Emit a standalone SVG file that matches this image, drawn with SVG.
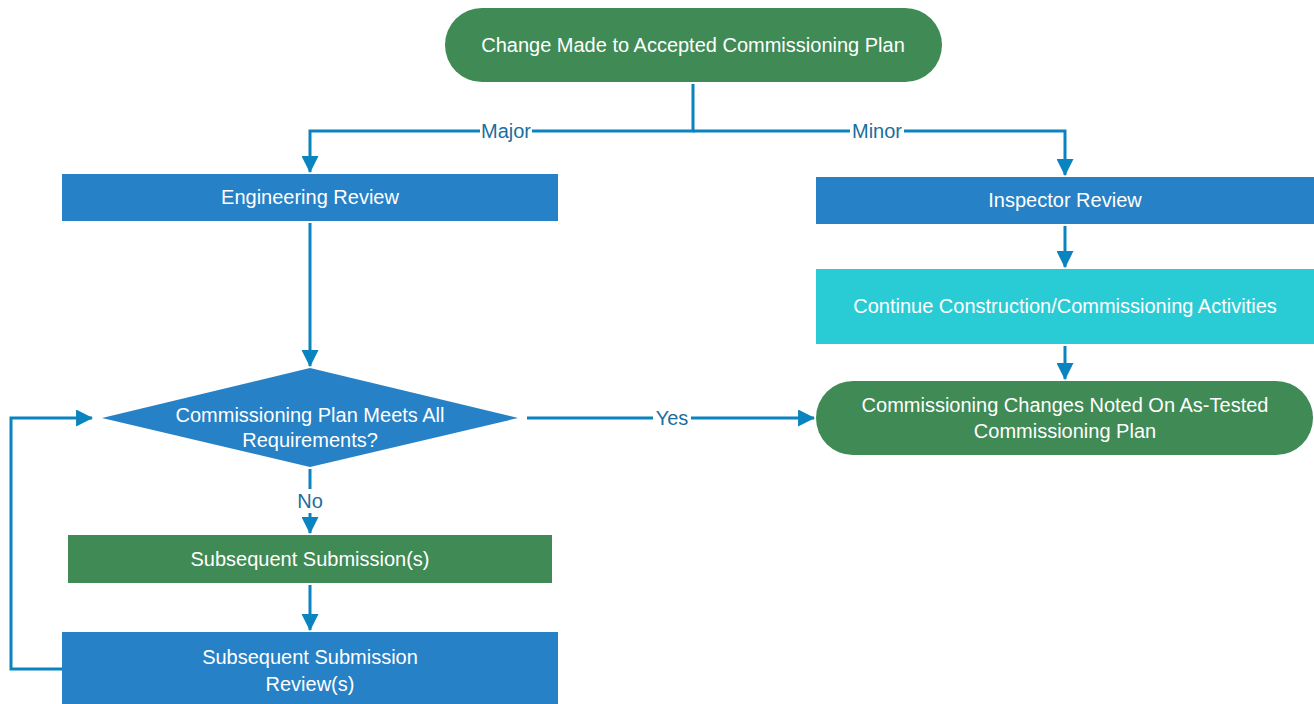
<svg xmlns="http://www.w3.org/2000/svg" width="1314" height="704" viewBox="0 0 1314 704">
  <defs>
    <marker id="arrow" viewBox="0 0 16 16" refX="15" refY="8" markerWidth="17" markerHeight="17" markerUnits="userSpaceOnUse" orient="auto">
      <path d="M0,0 L16,8 L0,16 Z" fill="#0A84BF"/>
    </marker>
    <style>
      .green { fill: #3F8A55; }
      .blue { fill: #2681C6; }
      .cyan { fill: #29CCD5; }
      .label { font-family: "Liberation Sans", Arial, sans-serif; font-size: 20px; fill: #FFFFFF; text-anchor: middle; }
      .conn { fill: none; stroke: #0A84BF; stroke-width: 3; }
      .conn-label { font-family: "Liberation Sans", Arial, sans-serif; font-size: 20px; fill: #1A6E9E; text-anchor: middle; }
      .label-bg { fill: #FFFFFF; }
    </style>
  </defs>
  <rect width="1314" height="704" fill="#FFFFFF"/>

  <g id="connectors">
    <path class="conn" d="M693,84 V131 H310 V172" marker-end="url(#arrow)"/>
    <path class="conn" d="M693,131 H1065 V175" marker-end="url(#arrow)"/>
    <path class="conn" d="M310,223 V366" marker-end="url(#arrow)"/>
    <path class="conn" d="M1065,226 V267" marker-end="url(#arrow)"/>
    <path class="conn" d="M1065,346 V379" marker-end="url(#arrow)"/>
    <path class="conn" d="M527,418 H814" marker-end="url(#arrow)"/>
    <path class="conn" d="M310,469 V533" marker-end="url(#arrow)"/>
    <path class="conn" d="M310,585 V630" marker-end="url(#arrow)"/>
    <path class="conn" d="M62,669 H11 V418 H92" marker-end="url(#arrow)"/>
    <rect class="label-bg" x="480" y="119" width="52" height="24"/>
    <text class="conn-label" x="506" y="138">Major</text>
    <rect class="label-bg" x="850" y="119" width="54" height="24"/>
    <text class="conn-label" x="877" y="138">Minor</text>
    <rect class="label-bg" x="653" y="406" width="38" height="24"/>
    <text class="conn-label" x="672" y="425">Yes</text>
    <rect class="label-bg" x="295" y="489" width="30" height="24"/>
    <text class="conn-label" x="310" y="508">No</text>
  </g>

  <g id="start">
    <rect class="green" x="445" y="8" width="497" height="74" rx="37" ry="37"/>
    <text class="label" x="693" y="52">Change Made to Accepted Commissioning Plan</text>
  </g>

  <g id="engineering-review">
    <rect class="blue" x="62" y="174" width="496" height="47"/>
    <text class="label" x="310" y="204">Engineering Review</text>
  </g>

  <g id="inspector-review">
    <rect class="blue" x="816" y="177" width="498" height="47"/>
    <text class="label" x="1065" y="207">Inspector Review</text>
  </g>

  <g id="continue-activities">
    <rect class="cyan" x="816" y="269" width="498" height="75"/>
    <text class="label" x="1065" y="313">Continue Construction/Commissioning Activities</text>
  </g>

  <g id="changes-noted">
    <rect class="green" x="816" y="381" width="497" height="74" rx="37" ry="37"/>
    <text class="label" x="1065" y="412">Commissioning Changes Noted On As-Tested</text>
    <text class="label" x="1065" y="438">Commissioning Plan</text>
  </g>

  <g id="meets-requirements">
    <polygon class="blue" points="310,368 518,418 310,467 102,418"/>
    <text class="label" x="310" y="422">Commissioning Plan Meets All</text>
    <text class="label" x="310" y="447">Requirements?</text>
  </g>

  <g id="subsequent-submission">
    <rect class="green" x="68" y="535" width="484" height="48"/>
    <text class="label" x="310" y="566">Subsequent Submission(s)</text>
  </g>

  <g id="subsequent-review">
    <rect class="blue" x="62" y="632" width="496" height="72"/>
    <text class="label" x="310" y="664">Subsequent Submission</text>
    <text class="label" x="310" y="691">Review(s)</text>
  </g>
</svg>
